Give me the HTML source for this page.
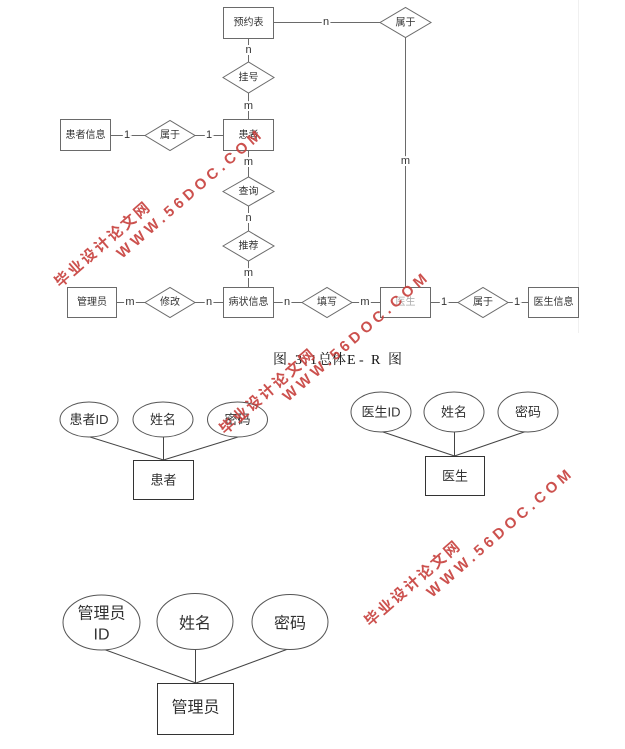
<!DOCTYPE html>
<html>
<head>
<meta charset="utf-8">
<style>
  html,body{margin:0;padding:0;background:#fff;}
  body{width:625px;height:749px;overflow:hidden;}
  svg{display:block;}
  .t{font-family:"Liberation Sans","Noto Sans CJK SC",sans-serif;fill:#333;}
</style>
</head>
<body>
<svg width="625" height="749" viewBox="0 0 625 749" xmlns="http://www.w3.org/2000/svg">
  <rect width="625" height="749" fill="#fff"/>
  <!-- faint border -->
  <line x1="578.5" y1="0" x2="578.5" y2="333" stroke="#f0f0f0" stroke-width="1"/>

  <!-- ===== Top ER diagram ===== -->
  <g stroke="#6a6a6a" stroke-width="1" fill="none">
    <!-- lines -->
    <line x1="273" y1="22.5" x2="380" y2="22.5"/>
    <line x1="248.5" y1="38" x2="248.5" y2="62"/>
    <line x1="248.5" y1="93" x2="248.5" y2="119"/>
    <line x1="110" y1="135.5" x2="145" y2="135.5"/>
    <line x1="195" y1="135.5" x2="223" y2="135.5"/>
    <line x1="248.5" y1="150" x2="248.5" y2="177"/>
    <line x1="248.5" y1="206" x2="248.5" y2="231"/>
    <line x1="248.5" y1="261" x2="248.5" y2="287"/>
    <line x1="116" y1="302.5" x2="145" y2="302.5"/>
    <line x1="195" y1="302.5" x2="223" y2="302.5"/>
    <line x1="273" y1="302.5" x2="302" y2="302.5"/>
    <line x1="352" y1="302.5" x2="380" y2="302.5"/>
    <line x1="430" y1="302.5" x2="458" y2="302.5"/>
    <line x1="508" y1="302.5" x2="528" y2="302.5"/>
    <line x1="405.5" y1="37" x2="405.5" y2="287"/>
    <!-- boxes -->
    <rect x="223.5" y="7.5" width="50" height="31" fill="#fff"/>
    <rect x="223.5" y="119.5" width="50" height="31" fill="#fff"/>
    <rect x="60.5" y="119.5" width="50" height="31" fill="#fff"/>
    <rect x="223.5" y="287.5" width="50" height="30" fill="#fff"/>
    <rect x="67.5" y="287.5" width="49" height="30" fill="#fff"/>
    <rect x="380.5" y="287.5" width="50" height="30" fill="#fff"/>
    <rect x="528.5" y="287.5" width="50" height="30" fill="#fff"/>
    <!-- diamonds -->
    <polygon points="380,22.5 405.5,7.5 431,22.5 405.5,37.5" fill="#fff"/>
    <polygon points="223,77.5 248.5,62 274,77.5 248.5,93" fill="#fff"/>
    <polygon points="145,135.5 170,120.5 195,135.5 170,150.5" fill="#fff"/>
    <polygon points="223,191.5 248.5,177 274,191.5 248.5,206" fill="#fff"/>
    <polygon points="223,246 248.5,231 274,246 248.5,261" fill="#fff"/>
    <polygon points="145,302.5 170,287.5 195,302.5 170,317.5" fill="#fff"/>
    <polygon points="302,302.5 327,287.5 352,302.5 327,317.5" fill="#fff"/>
    <polygon points="458,302.5 483,287.5 508,302.5 483,317.5" fill="#fff"/>
  </g>
  <g class="t" font-size="10" text-anchor="middle" dominant-baseline="central">
    <text x="248.5" y="23">预约表</text>
    <text x="405.5" y="23">属于</text>
    <text x="248.5" y="78">挂号</text>
    <text x="248.5" y="135.5">患者</text>
    <text x="85.5" y="135.5">患者信息</text>
    <text x="170" y="135.5">属于</text>
    <text x="248.5" y="192">查询</text>
    <text x="248.5" y="246.5">推荐</text>
    <text x="248.5" y="302.5">病状信息</text>
    <text x="92" y="302.5">管理员</text>
    <text x="170" y="302.5">修改</text>
    <text x="327" y="302.5">填写</text>
    <text x="405.5" y="302.5" fill="#aaa">医生</text>
    <text x="483" y="302.5">属于</text>
    <text x="553.5" y="302.5">医生信息</text>
  </g>
  <!-- cardinality labels -->
  <g class="t" font-size="11" text-anchor="middle" dominant-baseline="central" stroke="#fff" stroke-width="4" paint-order="stroke">
    <text x="326" y="22">n</text>
    <text x="248.5" y="50">n</text>
    <text x="248.5" y="106">m</text>
    <text x="127" y="135">1</text>
    <text x="209" y="135">1</text>
    <text x="248.5" y="162">m</text>
    <text x="248.5" y="218">n</text>
    <text x="248.5" y="273">m</text>
    <text x="405.5" y="161">m</text>
    <text x="130" y="302">m</text>
    <text x="209" y="302">n</text>
    <text x="287" y="302">n</text>
    <text x="365" y="302">m</text>
    <text x="444" y="302">1</text>
    <text x="517" y="302">1</text>
  </g>

  <!-- caption -->
  <g font-family="'Liberation Serif','Noto Serif CJK SC',serif" font-size="14" fill="#111">
    <text x="273" y="364">图</text>
    <text x="295" y="364">3</text>
    <text x="304" y="364">.</text>
    <text x="310" y="364">1</text>
    <text x="318" y="364">总</text>
    <text x="332" y="364">体</text>
    <text x="347" y="364">E</text>
    <text x="359" y="364">-</text>
    <text x="371" y="364">R</text>
    <text x="388" y="364">图</text>
  </g>

  <!-- ===== 患者 attributes ===== -->
  <g stroke="#444" stroke-width="1" fill="none">
    <line x1="90" y1="437" x2="163.5" y2="460"/>
    <line x1="163.5" y1="437" x2="163.5" y2="460"/>
    <line x1="238" y1="437" x2="163.5" y2="460"/>
    <ellipse cx="89" cy="419.5" rx="29" ry="17.5" fill="#fff" stroke="#555"/>
    <ellipse cx="163" cy="419.5" rx="30" ry="17.5" fill="#fff" stroke="#555"/>
    <ellipse cx="237.5" cy="419.5" rx="30" ry="17.5" fill="#fff" stroke="#555"/>
    <rect x="133.5" y="460.5" width="60" height="39" fill="#fff" stroke="#333"/>
  </g>
  <g class="t" font-size="13" text-anchor="middle" dominant-baseline="central" fill="#222">
    <text x="89" y="419.5">患者ID</text>
    <text x="163" y="419.5">姓名</text>
    <text x="237.5" y="419.5">密码</text>
    <text x="163.5" y="480">患者</text>
  </g>

  <!-- ===== 医生 attributes ===== -->
  <g stroke="#444" stroke-width="1" fill="none">
    <line x1="380" y1="431" x2="454.5" y2="456"/>
    <line x1="454.5" y1="431" x2="454.5" y2="456"/>
    <line x1="527" y1="431" x2="454.5" y2="456"/>
    <ellipse cx="381" cy="412" rx="30" ry="20" fill="#fff" stroke="#555"/>
    <ellipse cx="454" cy="412" rx="30" ry="20" fill="#fff" stroke="#555"/>
    <ellipse cx="528" cy="412" rx="30" ry="20" fill="#fff" stroke="#555"/>
    <rect x="425.5" y="456.5" width="59" height="39" fill="#fff" stroke="#333"/>
  </g>
  <g class="t" font-size="13" text-anchor="middle" dominant-baseline="central" fill="#222">
    <text x="381" y="412">医生ID</text>
    <text x="454" y="412">姓名</text>
    <text x="528" y="412">密码</text>
    <text x="455" y="476">医生</text>
  </g>

  <!-- ===== 管理员 attributes ===== -->
  <g stroke="#444" stroke-width="1" fill="none">
    <line x1="103" y1="649" x2="196" y2="683"/>
    <line x1="195.5" y1="649" x2="195.5" y2="683"/>
    <line x1="288" y1="649" x2="196" y2="683"/>
    <ellipse cx="101.5" cy="622.5" rx="38.5" ry="27.5" fill="#fff" stroke="#555"/>
    <ellipse cx="195" cy="621.5" rx="38" ry="28" fill="#fff" stroke="#555"/>
    <ellipse cx="290" cy="622" rx="38" ry="27.5" fill="#fff" stroke="#555"/>
    <rect x="157.5" y="683.5" width="76" height="51" fill="#fff" stroke="#333"/>
  </g>
  <g class="t" font-size="16" text-anchor="middle" dominant-baseline="central" fill="#222">
    <text x="101.5" y="614">管理员</text>
    <text x="101.5" y="635">ID</text>
    <text x="195" y="624">姓名</text>
    <text x="290" y="624">密码</text>
    <text x="195.5" y="708">管理员</text>
  </g>

  <!-- ===== Watermarks ===== -->
  <g font-family="'Liberation Sans','Noto Sans CJK SC',sans-serif" font-weight="bold" fill="#c8423f" opacity="0.92">
    <text transform="translate(60,288) rotate(-41)" font-size="15" letter-spacing="2.5">毕业设计论文网</text>
    <text transform="translate(122,259) rotate(-41)" font-size="15" letter-spacing="4.2">WWW.56DOC.COM</text>

    <text transform="translate(225,435) rotate(-41)" font-size="15" letter-spacing="2.5">毕业设计论文网</text>
    <text transform="translate(288,402) rotate(-41)" font-size="15" letter-spacing="4.2">WWW.56DOC.COM</text>

    <text transform="translate(370,627) rotate(-41)" font-size="15" letter-spacing="2.5">毕业设计论文网</text>
    <text transform="translate(432,598) rotate(-41)" font-size="15" letter-spacing="4.2">WWW.56DOC.COM</text>
  </g>
</svg>
</body>
</html>
